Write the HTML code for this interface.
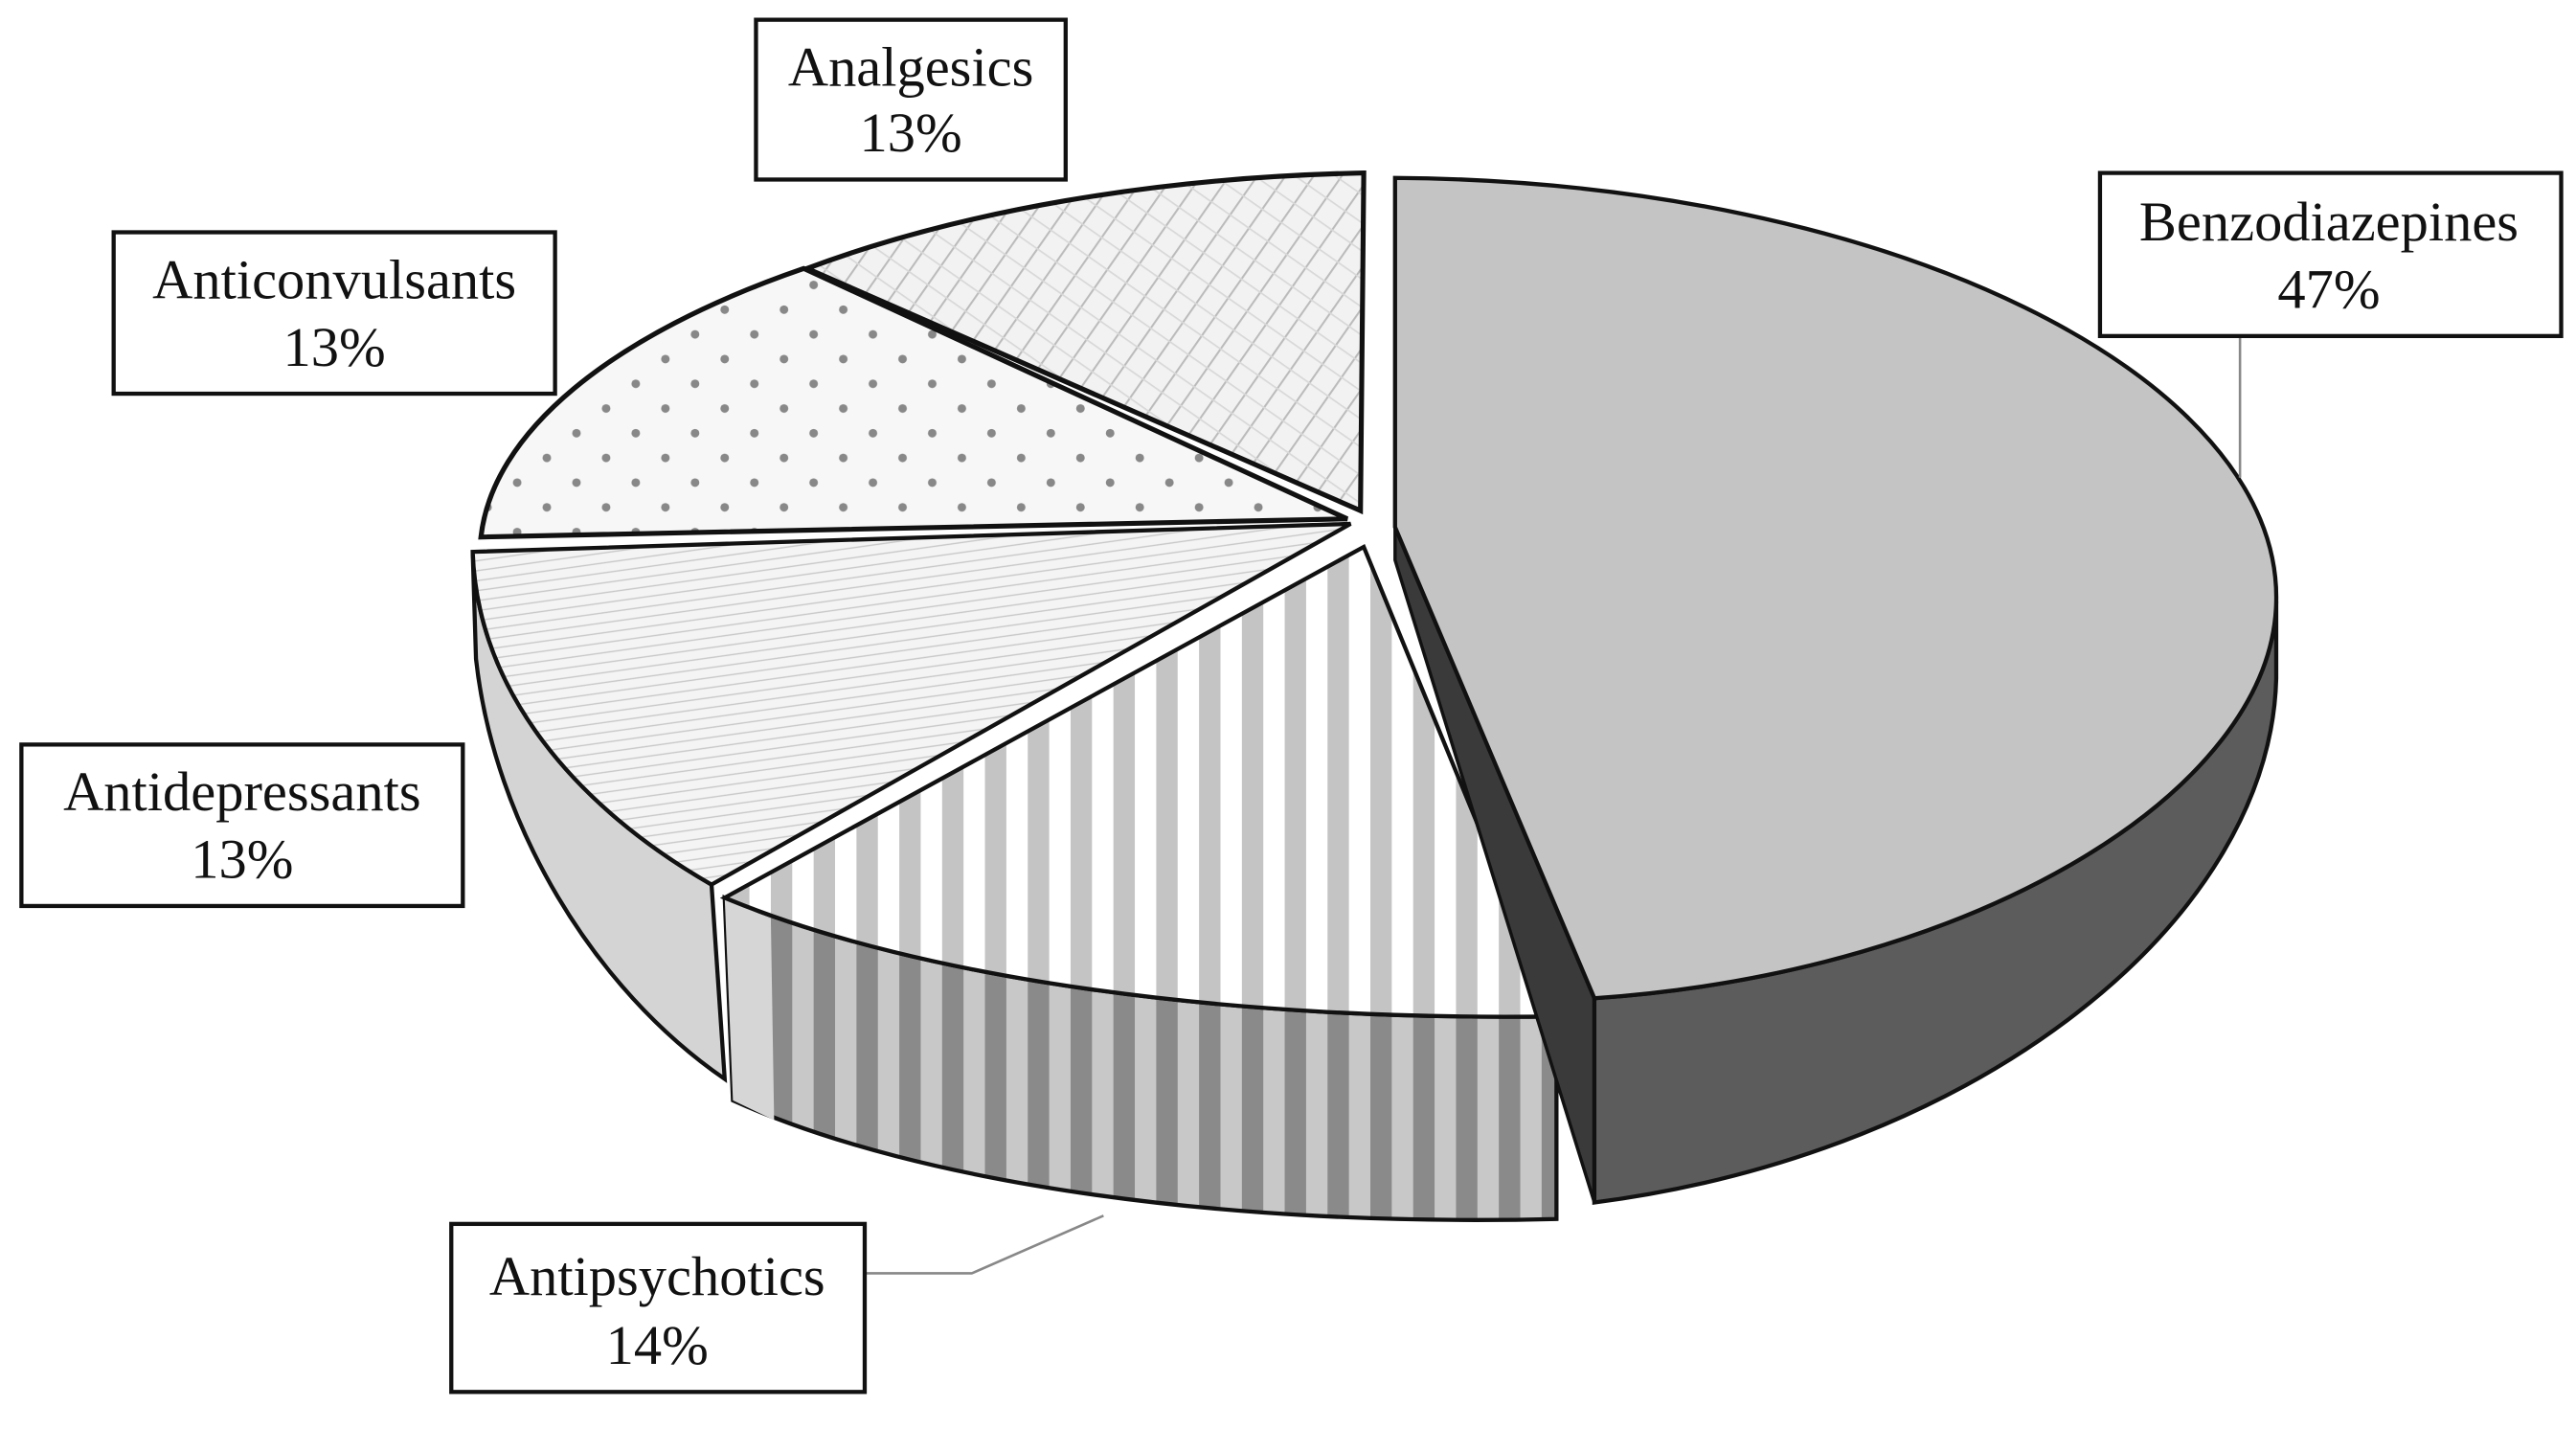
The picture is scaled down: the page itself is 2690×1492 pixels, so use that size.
<!DOCTYPE html>
<html><head><meta charset="utf-8"><style>
html,body{margin:0;padding:0;background:#fff}
svg{display:block}
text{font-family:"Liberation Serif",serif;font-size:34px;fill:#111}
</style></head><body>
<svg width="2690" height="1492" viewBox="0 0 1564 867.5" preserveAspectRatio="none" xmlns="http://www.w3.org/2000/svg">
<defs>
<pattern id="vs" width="26" height="40" patternUnits="userSpaceOnUse">
<rect width="26" height="40" fill="#fff"/><rect width="13" height="40" fill="#c4c4c4"/></pattern>
<pattern id="vsd" width="26" height="40" patternUnits="userSpaceOnUse">
<rect width="26" height="40" fill="#c8c8c8"/><rect width="13" height="40" fill="#8a8a8a"/></pattern>
<pattern id="dots" width="36" height="30" patternUnits="userSpaceOnUse">
<rect width="36" height="30" fill="#f7f7f7"/><circle cx="8" cy="8" r="2.6" fill="#888"/><circle cx="26" cy="23" r="2.6" fill="#888"/></pattern>
<pattern id="hl" width="8" height="6" patternUnits="userSpaceOnUse" patternTransform="rotate(-8)">
<rect width="8" height="6" fill="#f4f4f4"/><rect y="5" width="8" height="0.8" fill="#c8c8c8"/></pattern>
<pattern id="xh" width="14" height="14" patternUnits="userSpaceOnUse" patternTransform="rotate(35)">
<rect width="14" height="14" fill="#f2f2f2"/><rect width="1.2" height="14" fill="#bbb"/><rect width="14" height="1" fill="#d8d8d8"/></pattern>
</defs>

<path d="M287,335 L289,400 C300,500 360,600 440,655 L432,537 C350,490 290,420 287,335 Z" fill="#d4d4d4" stroke="#111" stroke-width="2.5"/>
<path d="M820,318 L287,335 C290,420 350,490 432,537 Z" fill="url(#hl)" stroke="#111" stroke-width="2.5"/>
<path d="M818,315 L292,326 A543,225 0 0 1 488,163 Z" fill="url(#dots)" stroke="#111" stroke-width="3"/>
<path d="M826,310 L490,163 A543,225 0 0 1 828,105 Z" fill="url(#xh)" stroke="#111" stroke-width="3"/>

<path d="M440,545 L445,668 C560,720 750,745 945,740 L945,617 C750,620 560,595 440,545 Z" fill="url(#vsd)" stroke="#111" stroke-width="2.5"/>
<path d="M440,545 L445,668 L470,680 L468,558 Z" fill="#d6d6d6"/>
<path d="M828,332 L440,545 C560,595 750,620 945,617 Z" fill="url(#vs)" stroke="#111" stroke-width="2.5"/>

<path d="M847,320 L847,340 L968,730 L968,606 Z" fill="#3a3a3a" stroke="#111" stroke-width="2"/>
<path d="M1382,365 L1382,412 C1378,560 1200,700 968,730 L968,606 C1200,590 1380,480 1382,365 Z" fill="#5c5c5c" stroke="#111" stroke-width="2.5"/>
<path d="M847,320 L847,108 C1150,110 1385,230 1382,365 C1380,480 1200,590 968,606 Z" fill="#c4c4c4" stroke="#111" stroke-width="2.5"/>

<line x1="1360" y1="204" x2="1360" y2="290" stroke="#888" stroke-width="1.5"/>
<polyline points="525,773 590,773 670,738" fill="none" stroke="#888" stroke-width="1.5"/>

<rect x="459" y="12" width="188" height="97" fill="#fff" stroke="#111" stroke-width="2.5"/>
<text x="553" y="52" text-anchor="middle">Analgesics</text>
<text x="553" y="92" text-anchor="middle">13%</text>

<rect x="69" y="141" width="268" height="98" fill="#fff" stroke="#111" stroke-width="2.5"/>
<text x="203" y="181" text-anchor="middle">Anticonvulsants</text>
<text x="203" y="222" text-anchor="middle">13%</text>

<rect x="1275" y="105" width="280" height="99" fill="#fff" stroke="#111" stroke-width="2.5"/>
<text x="1414" y="146" text-anchor="middle">Benzodiazepines</text>
<text x="1414" y="187" text-anchor="middle">47%</text>

<rect x="13" y="452" width="268" height="98" fill="#fff" stroke="#111" stroke-width="2.5"/>
<text x="147" y="492" text-anchor="middle">Antidepressants</text>
<text x="147" y="533" text-anchor="middle">13%</text>

<rect x="274" y="743" width="251" height="102" fill="#fff" stroke="#111" stroke-width="2.5"/>
<text x="399" y="786" text-anchor="middle">Antipsychotics</text>
<text x="399" y="828" text-anchor="middle">14%</text>
</svg>
</body></html>
